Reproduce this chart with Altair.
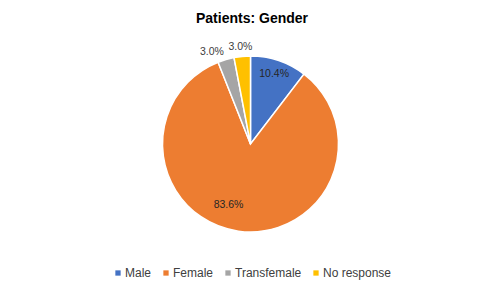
import altair as alt
import pandas as pd

categories = ["Male", "Female", "Transfemale", "No response"]
values = [10.4, 83.6, 3.0, 3.0]
labels = ["10.4%", "83.6%", "3.0%", "3.0%"]
colors = ["#4472C4", "#ED7D31", "#A5A5A5", "#FFC000"]

df = pd.DataFrame({
    "category": categories,
    "value": values,
    "label": labels,
    "idx": list(range(len(categories))),
})

theta_scale = alt.Scale(domain=[0, 100])
CX, CY = 242.5, 106

color = alt.Color(
    "category:N",
    scale=alt.Scale(domain=categories, range=colors),
    sort=categories,
    legend=alt.Legend(
        title=None, orient="none", direction="horizontal",
        legendX=104, legendY=229,
        symbolType="square", symbolSize=28, symbolStrokeWidth=0,
        labelFontSize=12, labelFont="Liberation Sans", labelColor="#404040",
        labelOffset=1, columnPadding=8,
    ),
)

arcs = alt.Chart(df).mark_arc(
    outerRadius=88, stroke="white", strokeWidth=1.5
).encode(
    theta=alt.Theta("value:Q", stack=True, scale=theta_scale),
    color=color,
    order=alt.Order("idx:Q"),
    x=alt.value(CX), y=alt.value(CY),
)

tbase = alt.Chart(df).transform_window(
    cum="sum(value)", sort=[alt.SortField("idx")], frame=[None, 0]
).transform_calculate(
    mid="datum.cum - datum.value / 2"
)

def label_layer(cat_filter, radius, dx, dy, col):
    return tbase.transform_filter(cat_filter).mark_text(
        radius=radius, dx=dx, dy=dy, fontSize=10.5, font="Liberation Sans",
        color=col, align="center", baseline="middle",
    ).encode(
        theta=alt.Theta("mid:Q", scale=theta_scale),
        text="label:N",
        x=alt.value(CX), y=alt.value(CY),
    )

t_male = label_layer(alt.datum.category == "Male", 73.5, 0, 0, "#262626")
t_female = label_layer(alt.datum.category == "Female", 65, -13, -3, "#262626")
t_trans = label_layer(alt.datum.category == "Transfemale", 99, -11, 3, "#404040")
t_nr = label_layer(alt.datum.category == "No response", 97, -1, 0, "#404040")

chart = alt.layer(arcs, t_male, t_female, t_trans, t_nr).properties(
    width=488, height=250,
    autosize=alt.AutoSizeParams(type="none"),
    padding={"left": 0, "right": 0, "top": 30, "bottom": 0},
    title=alt.Title(
        "Patients: Gender", fontSize=14, font="Liberation Sans",
        fontWeight="bold", color="#000000", anchor="middle", offset=12,
    ),
).configure(
    background="white",
    view=alt.ViewConfig(stroke="transparent", strokeWidth=0),
)

chart.save("out.html", embed_options={"renderer": "svg", "actions": False})
